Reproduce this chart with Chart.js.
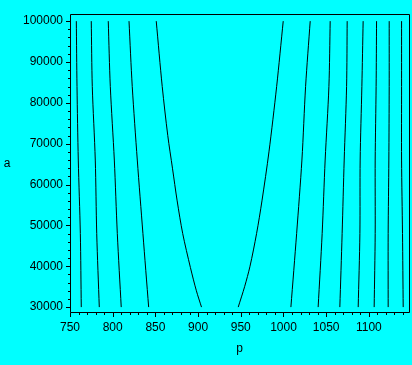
<!DOCTYPE html>
<html>
<head>
<meta charset="utf-8">
<script src="https://cdn.jsdelivr.net/npm/chart.js@4/dist/chart.umd.min.js"></script>
<style>
  html, body { margin: 0; padding: 0; background: #00ffff; }
  canvas { display: block; }
</style>
</head>
<body>
<canvas id="c" width="412" height="365"></canvas>
<script>
// ---- data ----
const xTitle = 'p';
const yTitle = 'a';
const xTickLabels = [750, 800, 850, 900, 950, 1000, 1050, 1100];
const yTickLabels = [30000, 40000, 50000, 60000, 70000, 80000, 90000, 100000];
const xMinorStep = 10;
const yMinorStep = 2000;

const aLevels = [30000, 48000, 66000, 84000, 100000];
const c1  = [763.2, 762.1, 759.7, 758.2, 757.4];
const c2  = [784.3, 781.3, 779.6, 776.1, 774.9];
const c3  = [810.0, 805.4, 801.9, 797.2, 794.8];
const c4  = [842.1, 835.4, 828.8, 822.9, 819.1];
const aLevelsC5 = [30000, 34000, 39700, 48000, 56000, 64000, 72000, 84000, 100000];
const c5  = [904.0, 898.0, 891.0, 882.0, 875.5, 870.0, 864.5, 858.0, 851.0];
const aLevelsC6 = [30000, 35000, 40000, 48000, 56000, 68000, 84000, 100000];
const c6  = [947.0, 954.5, 960.8, 968.5, 974.8, 983.0, 992.0, 999.7];
const c7  = [1008.7, 1015.4, 1021.6, 1025.9, 1031.3];
const c8  = [1040.6, 1045.3, 1048.8, 1053.2, 1054.7];
const c9  = [1066.0, 1068.7, 1071.1, 1073.9, 1074.6];
const c10 = [1087.5, 1089.5, 1089.8, 1091.8, 1093.3];
const c11 = [1106.2, 1107.4, 1107.4, 1108.5, 1109.0];
const c12 = [1122.6, 1122.6, 1123.4, 1123.8, 1123.8];
const c13 = [1140.2, 1139.4, 1138.3, 1138.3, 1138.3];

const contours = [
  [c1, aLevels], [c2, aLevels], [c3, aLevels], [c4, aLevels],
  [c5, aLevelsC5], [c6, aLevelsC6],
  [c7, aLevels], [c8, aLevels], [c9, aLevels], [c10, aLevels],
  [c11, aLevels], [c12, aLevels], [c13, aLevels]
];

const datasets = contours.map(([ps, as]) => ({
  data: ps.map((p, i) => ({ x: p, y: as[i] })),
  showLine: true,
  borderColor: '#000000',
  borderWidth: 1,
  pointRadius: 0,
  tension: 0.3,
  fill: false
}));

// tick positions: major ticks carry the labels, minor ticks between them
function tickList(labels, minor, lo, hi) {
  const out = [];
  const first = labels[0];
  for (let v = first; v <= hi + 1e-9; v += minor) {
    if (v >= lo) out.push({ value: v, major: labels.includes(v) });
  }
  return out;
}

const FONT = '"Liberation Sans", Arial, Helvetica, sans-serif';
const X_MIN = 750, X_MAX = 1147, Y_MIN = 28800, Y_MAX = 101700;

const framePlugin = {
  id: 'frame',
  afterDraw(chart) {
    const ctx = chart.ctx;
    const ca = chart.chartArea;
    const xs = chart.scales.x, ys = chart.scales.y;
    ctx.save();
    ctx.strokeStyle = '#000';
    ctx.lineWidth = 1;
    const L = Math.round(ca.left) + 0.5, R = Math.round(ca.right) + 0.5;
    const T = Math.round(ca.top) + 0.5, B = Math.round(ca.bottom) + 0.5;
    ctx.beginPath();
    ctx.rect(L, T, R - L, B - T);
    ctx.stroke();
    ctx.beginPath();
    xs.ticks.forEach(t => {
      const px = Math.round(xs.getPixelForValue(t.value)) + 0.5;
      const len = t.major ? 4 : 2;
      ctx.moveTo(px, B);
      ctx.lineTo(px, B + len + 0.5);
    });
    ys.ticks.forEach(t => {
      const py = Math.round(ys.getPixelForValue(t.value)) + 0.5;
      const len = t.major ? 4 : 2;
      ctx.moveTo(L, py);
      ctx.lineTo(L - len - 0.5, py);
    });
    ctx.stroke();
    ctx.fillStyle = '#000';
    ctx.font = '12px ' + FONT;
    ctx.textAlign = 'center';
    ctx.textBaseline = 'alphabetic';
    ctx.fillText(xTitle, (ca.left + ca.right) / 2, 352);
    ctx.fillText(yTitle, 7, 167);
    ctx.restore();
  }
};

const bgPlugin = {
  id: 'bg',
  beforeDraw(chart) {
    const ctx = chart.ctx;
    ctx.save();
    ctx.fillStyle = '#00ffff';
    ctx.fillRect(0, 0, chart.width, chart.height);
    ctx.restore();
  }
};

new Chart(document.getElementById('c'), {
  type: 'scatter',
  data: { datasets },
  plugins: [bgPlugin, framePlugin],
  options: {
    responsive: false,
    devicePixelRatio: 1,
    animation: false,
    layout: { padding: { top: 12, right: 3, left: 0, bottom: 0 } },
    plugins: { legend: { display: false }, tooltip: { enabled: false } },
    scales: {
      x: {
        type: 'linear',
        min: X_MIN, max: X_MAX,
        grid: { display: false, drawTicks: false },
        border: { display: false },
        afterBuildTicks(s) { s.ticks = tickList(xTickLabels, xMinorStep, X_MIN, X_MAX); },
        afterFit(s) { s.height = 53; },
        ticks: {
          autoSkip: false,
          maxRotation: 0,
          padding: 8,
          color: '#000',
          font: { family: FONT, size: 12 },
          callback: (v, i, ticks) => (ticks[i] && ticks[i].major ? String(v) : '')
        }
      },
      y: {
        type: 'linear',
        min: Y_MIN, max: Y_MAX,
        grid: { display: false, drawTicks: false },
        border: { display: false },
        afterBuildTicks(s) { s.ticks = tickList(yTickLabels, yMinorStep, Y_MIN, Y_MAX); },
        afterFit(s) { s.width = 70; },
        ticks: {
          autoSkip: false,
          padding: 7,
          color: '#000',
          font: { family: FONT, size: 12 },
          callback: (v, i, ticks) => (ticks[i] && ticks[i].major ? String(v) : '')
        }
      }
    }
  }
});
</script>
</body>
</html>
